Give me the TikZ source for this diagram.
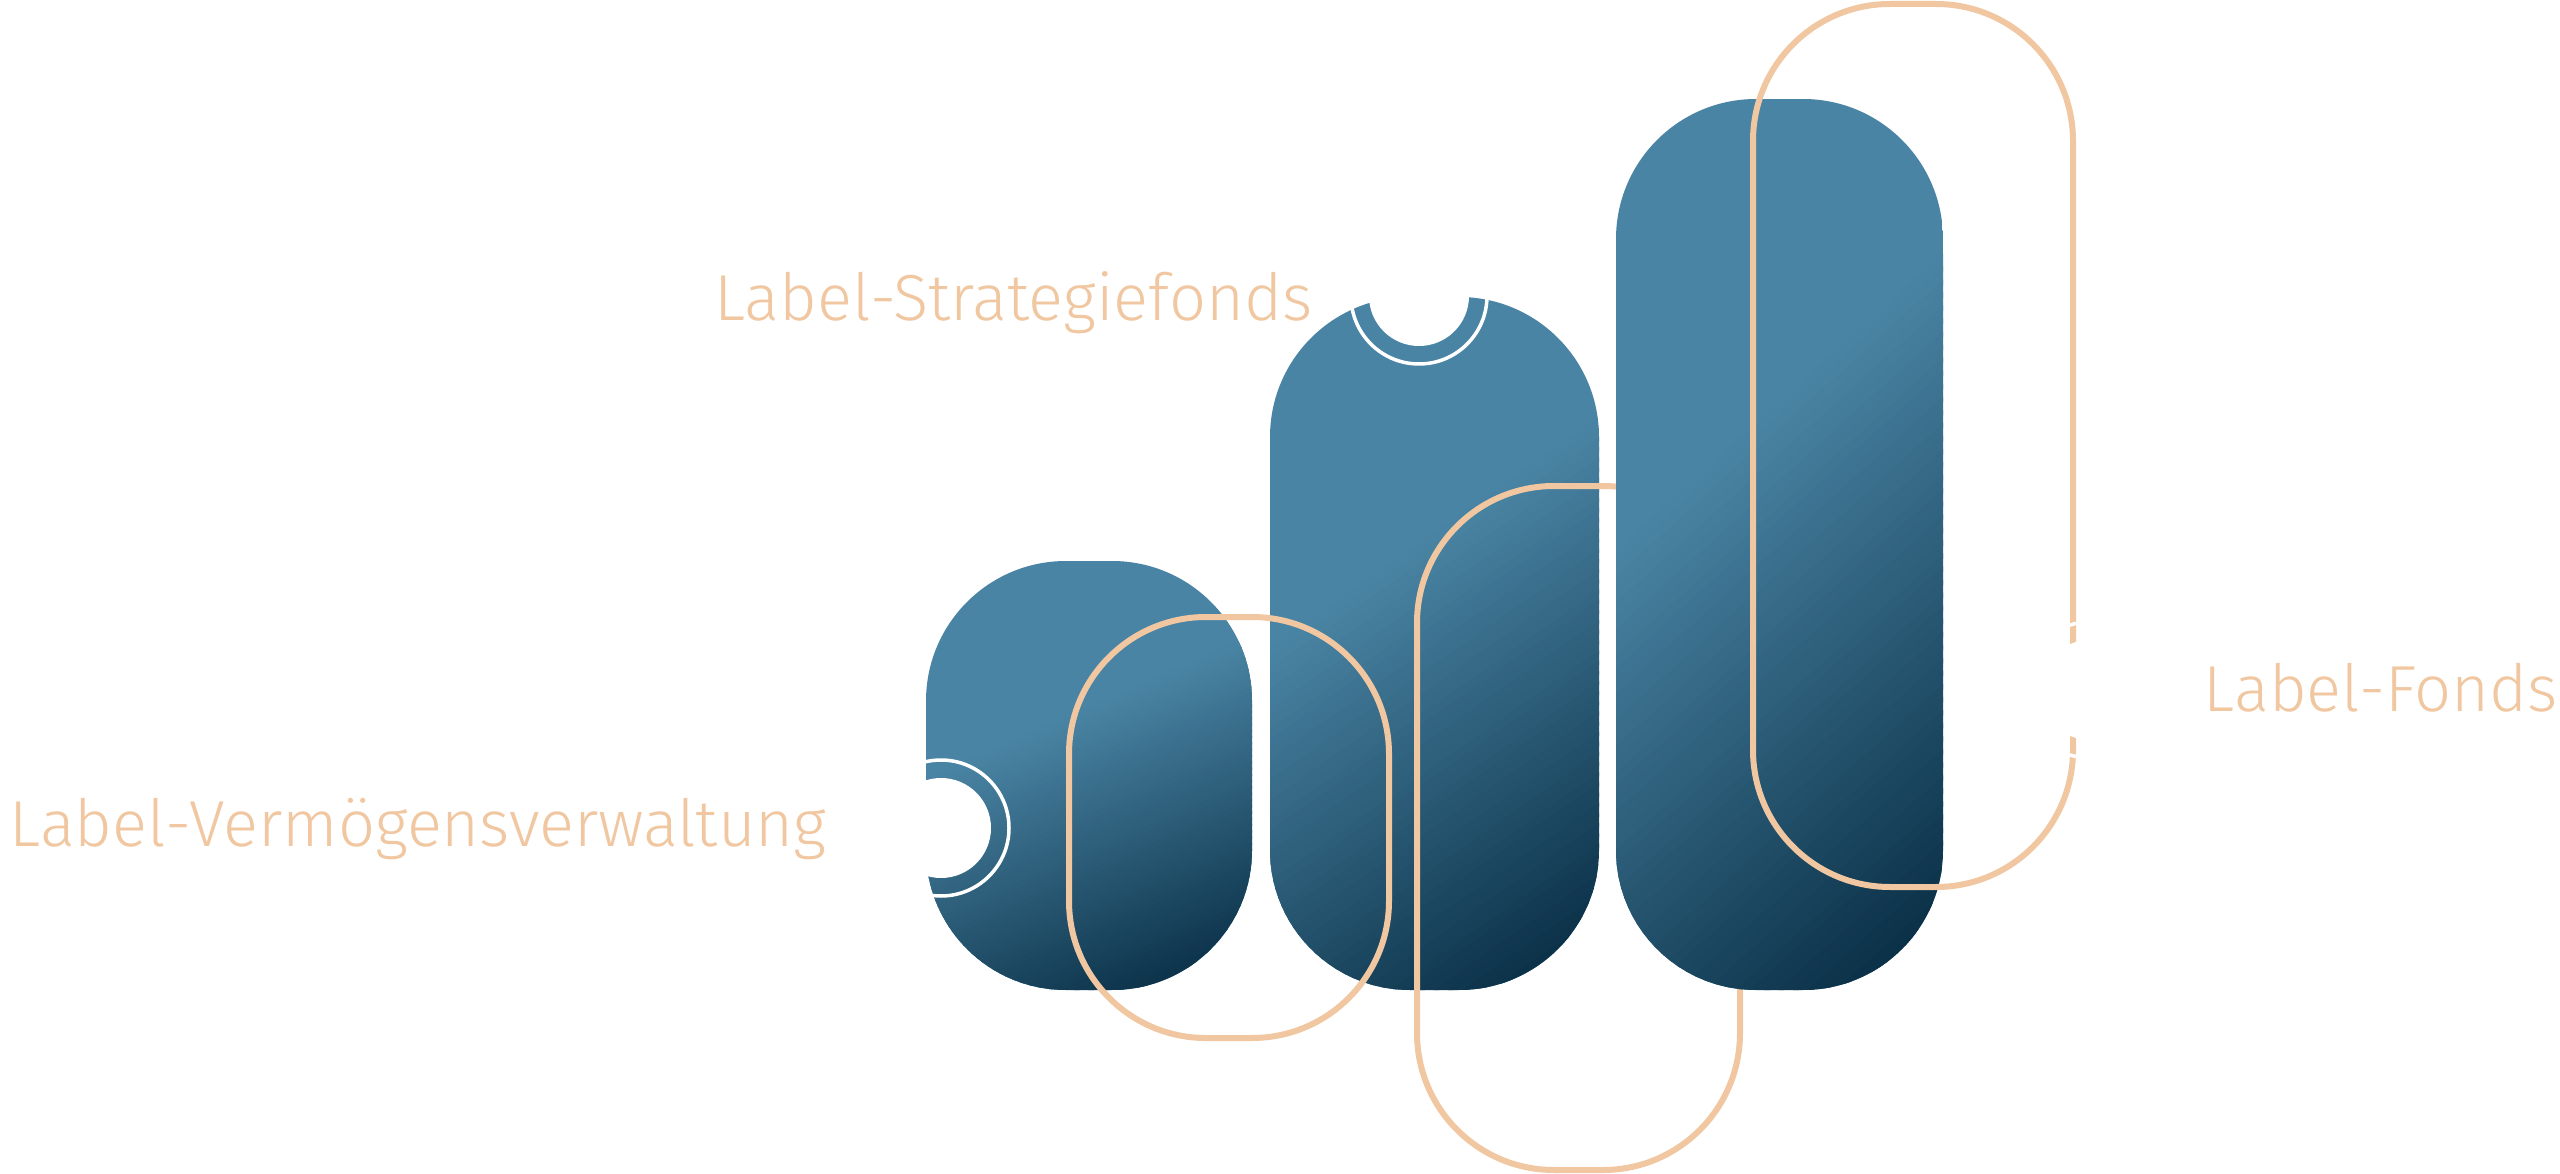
\documentclass[tikz,border=0pt]{standalone}
\usepackage{fontspec}
\IfFontExistsTF{Fira Sans Light}{\newfontfamily\labelfont{Fira Sans Light}}{\newfontfamily\labelfont{Fira Sans}}
\definecolor{barlight}{HTML}{4A84A4}
\definecolor{bardark}{HTML}{0B3148}
\definecolor{peach}{HTML}{F0C7A0}
% gradient bar: x0,y0,x1,y1 ; t = ((x-x0)/w + 3 (y-y0)/h)/4
\newcommand\gradbar[4]{%
  \begin{scope}
    \clip[rounded corners=14mm] (#1,#2) rectangle (#3,#4);
    \pgfmathsetmacro\bw{#3-#1}
    \def\tL{0.38}\def\tD{0.93}
    \pgfmathsetmacro\tS{(\tD-\tL)/50}
    \fill[barlight] (#1,#2) rectangle (#3,#4);
    \foreach \i in {0,...,49}{
      \pgfmathsetmacro\ta{\tL+\i*\tS}
      \pgfmathsetmacro\tb{\tL+(\i+1.4)*\tS}
      \pgfmathsetmacro\xa{#1+4*\bw*\ta}
      \pgfmathsetmacro\xb{#1+4*\bw*\tb}
      \pgfmathsetmacro\xc{#1+\bw*(4*\tb-3)}
      \pgfmathsetmacro\xd{#1+\bw*(4*\ta-3)}
      \pgfmathsetmacro\pc{(\i+0.5)/50*100}
      \fill[bardark!\pc!barlight] (\xa,#2) -- (\xb,#2) -- (\xc,#4) -- (\xd,#4) -- cycle;
    }
    \pgfmathsetmacro\xe{#1+4*\bw*\tD}
    \pgfmathsetmacro\xf{#1+\bw*(4*\tD-3)}
    \fill[bardark] (\xe,#2) -- (#3+4*\bw,#2) -- (#3+4*\bw,#4) -- (\xf,#4) -- cycle;
  \end{scope}}
\begin{document}
\begin{tikzpicture}[x=0.1mm,y=-0.1mm,
  loop/.style={draw=peach, line width=0.6mm, rounded corners=13.7mm},
  lab/.style={text=peach, inner sep=0pt, font=\labelfont\fontsize{18.5}{21}\selectfont},
  dotfill/.style={fill=white},
  dotring/.style={draw=white, line width=0.35mm}]
\useasboundingbox[fill=white] (0,0) rectangle (2560,1174);
% bars
\gradbar{926}{561}{1252}{990}
\gradbar{1270}{297}{1599}{990}
% outlines under bar3
\draw[loop] (1069,617) rectangle (1389,1038);
\draw[loop] (1417,486) rectangle (1740,1170);
\gradbar{1616}{99}{1943}{990}
\draw[loop] (1753,4) rectangle (2073,887);
% circles
\fill[dotfill] (941,828) circle[radius=5mm];
\draw[dotring] (941,828) circle[radius=6.8mm];
\fill[dotfill] (1419,296) circle[radius=5mm];
\draw[dotring] (1419,296) circle[radius=6.8mm];
\fill[dotfill] (2090,690) circle[radius=5mm];
\draw[dotring] (2090,690) circle[radius=6.8mm];
% labels
\node[lab, anchor=base east] (lv) at (827,846) {Label-Vermögensverwaltung};
\node[lab, anchor=base east] (ls) at (1313,320) {Label-Strategiefonds};
\node[lab, anchor=base west] (lf) at (2203,711) {Label-Fonds};
\end{tikzpicture}
\end{document}
